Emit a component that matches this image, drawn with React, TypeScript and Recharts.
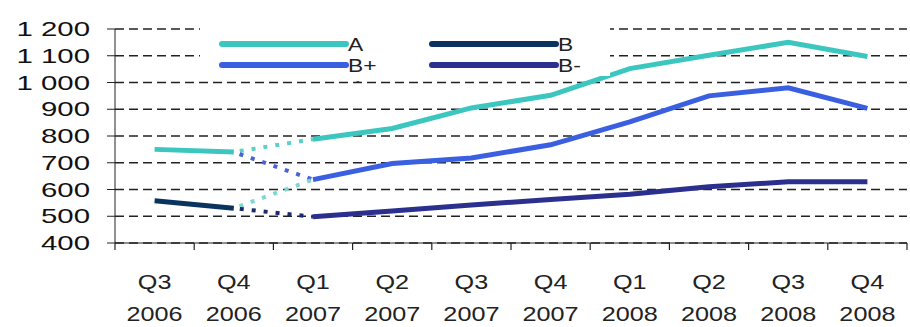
import { CartesianGrid, Line, LineChart, XAxis, YAxis } from "recharts";

// quarters on the x axis
const quarters = ["Q3", "Q4", "Q1", "Q2", "Q3", "Q4", "Q1", "Q2", "Q3", "Q4"];
const years = ["2006", "2006", "2007", "2007", "2007", "2007", "2008", "2008", "2008", "2008"];

// series values
const seriesA = [750, 740, 788, 828, 905, 952, 1052, 1102, 1150, 1097];
const seriesB = [558, 530, null, null, null, null, null, null, null, null];
const seriesBPlus = [null, null, 637, 697, 718, 767, 853, 950, 980, 903];
const seriesBMinus = [null, null, 498, 520, 542, 563, 582, 610, 629, 629];

const yTicks = [400, 500, 600, 700, 800, 900, 1000, 1100, 1200];

const COLORS = {
  a: "#3cc6c0",
  b: "#0b3360",
  bPlus: "#3a5fe0",
  bMinus: "#2b2f8e",
};

const W = 910;
const H = 327;
const M = { top: 29, right: 3, bottom: 0, left: 0 };
const Y_AXIS_W = 115;
const X_AXIS_H = 84;
const BAND = (W - M.left - M.right - Y_AXIS_W) / quarters.length;
const FONT = '"Liberation Sans", Arial, sans-serif';

// last old quarter -> first new quarter
const SPLIT = 2;
const link = (from: (number | null)[], to: (number | null)[], i: number) =>
  i === SPLIT - 1 ? from[i] : i === SPLIT ? to[i] : null;

const data = quarters.map((q, i) => ({
  label: `${q} ${years[i]}`,
  aOld: i < SPLIT ? seriesA[i] : null,
  aNew: i >= SPLIT ? seriesA[i] : null,
  b: seriesB[i],
  bPlus: seriesBPlus[i],
  bMinus: seriesBMinus[i],
  linkAA: link(seriesA, seriesA, i),
  linkABp: link(seriesA, seriesBPlus, i),
  linkBBp: link(seriesB, seriesBPlus, i),
  linkBBm: link(seriesB, seriesBMinus, i),
}));

const fmtY = (v: number) =>
  v >= 1000 ? `${Math.floor(v / 1000)} ${String(v % 1000).padStart(3, "0")}` : String(v);

function YTick({ x, y, payload }: any) {
  return (
    <g transform={`translate(${x},${y}) scale(1.4,1)`}>
      <text x={0} y={0} dy={7} textAnchor="end" fontSize={21} fill="#111" fontFamily={FONT}>
        {fmtY(payload.value)}
      </text>
    </g>
  );
}

function XTick({ x, y, payload, index }: any) {
  const [q, yr] = String(payload.value).split(" ");
  const left = x - BAND / 2;
  return (
    <g>
      <line x1={left} x2={left} y1={y} y2={y + 7} stroke="#222" strokeWidth={1.2} />
      {index === quarters.length - 1 && (
        <line x1={x + BAND / 2} x2={x + BAND / 2} y1={y} y2={y + 7} stroke="#222" strokeWidth={1.2} />
      )}
      <g transform={`translate(${x},${y}) scale(1.2,1)`}>
        <text x={0} y={46} textAnchor="middle" fontSize={21} fill="#222" fontFamily={FONT}>
          {q}
        </text>
        <text x={0} y={78} textAnchor="middle" fontSize={21} fill="#222" fontFamily={FONT}>
          {yr}
        </text>
      </g>
    </g>
  );
}

const legendItems = [
  { name: "A", color: COLORS.a, x: 22, y: 20 },
  { name: "B", color: COLORS.b, x: 232, y: 20 },
  { name: "B+", color: COLORS.bPlus, x: 22, y: 41 },
  { name: "B-", color: COLORS.bMinus, x: 232, y: 41 },
];

function ChartLegend() {
  return (
    <svg
      width={410}
      height={62}
      style={{ position: "absolute", left: 200, top: 24, overflow: "visible" }}
    >
      <rect x={0} y={0} width={410} height={52} fill="#fff" />
      {legendItems.map((it) => (
        <g key={it.name}>
          <line
            x1={it.x}
            x2={it.x + 124}
            y1={it.y}
            y2={it.y}
            stroke={it.color}
            strokeWidth={6}
            strokeLinecap="round"
          />
          <g transform={`translate(${it.x + 126},${it.y + 7}) scale(1.2,1)`}>
            <text x={0} y={0} fontSize={19} fill="#222" fontFamily={FONT}>
              {it.name}
            </text>
          </g>
        </g>
      ))}
      <text x={156} y={60} fontSize={11} fill="#444" fontFamily={FONT}>
        -
      </text>
    </svg>
  );
}

export default function App() {
  document.body.style.margin = "0";
  const solid = { type: "linear" as const, dot: false, strokeWidth: 5, isAnimationActive: false, connectNulls: false };
  const dotted = { ...solid, strokeWidth: 4, strokeDasharray: "4 8", strokeDashoffset: -6 };
  return (
    <div style={{ position: "relative", width: W, height: H, background: "#fff" }}>
      <LineChart width={W} height={H} data={data} margin={M}>
        <CartesianGrid vertical={false} stroke="#222" strokeDasharray="9 5" strokeWidth={1.3} />
        <XAxis
          dataKey="label"
          height={X_AXIS_H}
          padding={{ left: BAND / 2, right: BAND / 2 }}
          tickLine={false}
          tickSize={0}
          tickMargin={0}
          interval={0}
          stroke="#222"
          tick={<XTick />}
        />
        <YAxis
          width={Y_AXIS_W}
          domain={[400, 1200]}
          ticks={yTicks}
          interval={0}
          tickSize={8}
          tickMargin={17}
          stroke="#222"
          tick={<YTick />}
        />
        <Line dataKey="linkAA" stroke="#5ccfc8" {...dotted} />
        <Line dataKey="linkABp" stroke="#4a62d8" {...dotted} />
        <Line dataKey="linkBBp" stroke="#7fd6cf" {...dotted} />
        <Line dataKey="linkBBm" stroke="#1a2a6a" {...dotted} />
        <Line dataKey="aOld" stroke={COLORS.a} {...solid} />
        <Line dataKey="aNew" stroke={COLORS.a} {...solid} />
        <Line dataKey="b" stroke={COLORS.b} {...solid} />
        <Line dataKey="bPlus" stroke={COLORS.bPlus} {...solid} />
        <Line dataKey="bMinus" stroke={COLORS.bMinus} {...solid} />
      </LineChart>
      <ChartLegend />
    </div>
  );
}
